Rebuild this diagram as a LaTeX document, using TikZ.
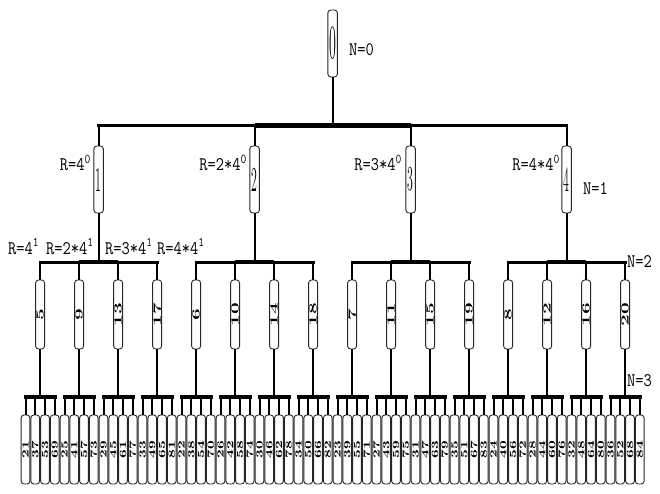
\documentclass[tikz,border=0pt]{standalone}
\usepackage{graphicx}
\newcommand\stretchlbl[1]{\scalebox{1}[1.2]{#1}}
\begin{document}
\begin{tikzpicture}[x=1pt,y=-1pt,
  boxbase/.style={draw=black!85, line width=0.9pt, fill=white, rounded corners=3pt, inner sep=0pt},
  rootbox/.style={boxbase, minimum width=9.5pt, minimum height=67pt, font=\fontsize{14}{14}\selectfont},
  onebox/.style={boxbase, minimum width=9.5pt, minimum height=67pt, font=\fontsize{14}{14}\selectfont},
  twobox/.style={boxbase, rotate=90, minimum width=69pt, minimum height=9pt, font=\fontsize{11}{11}\selectfont\bfseries},
  leafbox/.style={boxbase, rotate=90, minimum width=69pt, minimum height=8.8pt, font=\fontsize{9.5}{9.5}\selectfont\bfseries},
  conn/.style={line width=2pt, black},
  bus/.style={line width=3pt, black, line cap=rect},
  busmid/.style={line width=5pt, black},
  leafbus/.style={line width=3.5pt, black, line cap=rect},
  lab/.style={inner sep=0pt, font=\ttfamily\fontsize{16}{16}\selectfont}
]
\useasboundingbox (0,0) rectangle (660,494);
\coordinate (yb1) at (0,126);
\coordinate (yb2) at (0,262);
\coordinate (yb3) at (0,397);

% root
\node[rootbox] (n0) at (332.6,43.5) {\scalebox{1}[3.4]{0}};

% level 1
\foreach \p in {0,...,3} {
  \pgfmathsetmacro\xx{98.625+156*\p}
  \pgfmathtruncatemacro\num{\p+1}
  \node[onebox] (n\num) at (\xx,179.5) {\scalebox{0.85}[2.5]{\num}};
}

% level 2 and leaves
\foreach \j in {0,...,15} {
  \pgfmathtruncatemacro\p{floor(\j/4)}
  \pgfmathtruncatemacro\k{mod(\j,4)}
  \pgfmathtruncatemacro\num{5+\p+4*\k}
  \pgfmathsetmacro\xx{40.125+39*\j}
  \node[twobox] (n\num) at (\xx,314.5) {\scalebox{1.9}[1]{\num}};
  \foreach \q in {0,...,3} {
    \pgfmathtruncatemacro\lnum{\num+16*(\q+1)}
    \pgfmathsetmacro\lx{25.5+9.75*(4*\j+\q)}
    \node[leafbox] (n\lnum) at (\lx,449.5) {\scalebox{1.6}[1]{\lnum}};
  }
}

% root connectors
\draw[conn] (n0.south) -- (n0.south |- yb1);
\draw[bus] (n1.north |- yb1) -- (n4.north |- yb1);
\draw[busmid] (n2.north |- yb1) -- (n3.north |- yb1);

% level 1 connectors and level-2 buses
\foreach \p in {0,...,3} {
  \pgfmathtruncatemacro\num{\p+1}
  \pgfmathtruncatemacro\ca{5+\p}
  \pgfmathtruncatemacro\cb{9+\p}
  \pgfmathtruncatemacro\cc{13+\p}
  \pgfmathtruncatemacro\cd{17+\p}
  \draw[conn] (n\num.north |- yb1) -- (n\num.north);
  \draw[conn] (n\num.south) -- (n\num.south |- yb2);
  \draw[bus] (n\ca.east |- yb2) -- (n\cd.east |- yb2);
  \draw[line width=4pt] (n\cb.east |- yb2) -- (n\cc.east |- yb2);
}

% level 2 connectors and leaf buses
\foreach \num in {5,...,20} {
  \pgfmathtruncatemacro\la{\num+16}
  \pgfmathtruncatemacro\ld{\num+64}
  \draw[conn] (n\num.east |- yb2) -- (n\num.east);
  \draw[conn] (n\num.west) -- (n\num.west |- yb3);
  \draw[leafbus] (n\la.east |- yb3) -- (n\ld.east |- yb3);
  \foreach \q in {1,...,4} {
    \pgfmathtruncatemacro\lnum{\num+16*\q}
    \draw[conn] (n\lnum.east |- yb3) -- (n\lnum.east);
  }
}

% labels
\node[lab, anchor=base west] (t0) at (349,56) {\stretchlbl{N=0}};
\node[lab, anchor=base east] (t1) at (91,171) {\stretchlbl{R=4\textsuperscript{0}}};
\node[lab, anchor=base east] (t2) at (247,171) {\stretchlbl{R=2*4\textsuperscript{0}}};
\node[lab, anchor=base east] (t3) at (402,171) {\stretchlbl{R=3*4\textsuperscript{0}}};
\node[lab, anchor=base east] (t4) at (560,171) {\stretchlbl{R=4*4\textsuperscript{0}}};
\node[lab, anchor=base west] (tn1) at (583,194) {\stretchlbl{N=1}};
\node[lab, anchor=base west] (t5) at (8,254) {\stretchlbl{R=4\textsuperscript{1}}};
\node[lab, anchor=base west] (t6) at (46,254) {\stretchlbl{R=2*4\textsuperscript{1}}};
\node[lab, anchor=base west] (t7) at (105,254) {\stretchlbl{R=3*4\textsuperscript{1}}};
\node[lab, anchor=base west] (t8) at (157,254) {\stretchlbl{R=4*4\textsuperscript{1}}};
\node[lab, anchor=base west] (tn2) at (627,267) {\stretchlbl{N=2}};
\node[lab, anchor=base west] (tn3) at (627,386) {\stretchlbl{N=3}};
\end{tikzpicture}
\end{document}
